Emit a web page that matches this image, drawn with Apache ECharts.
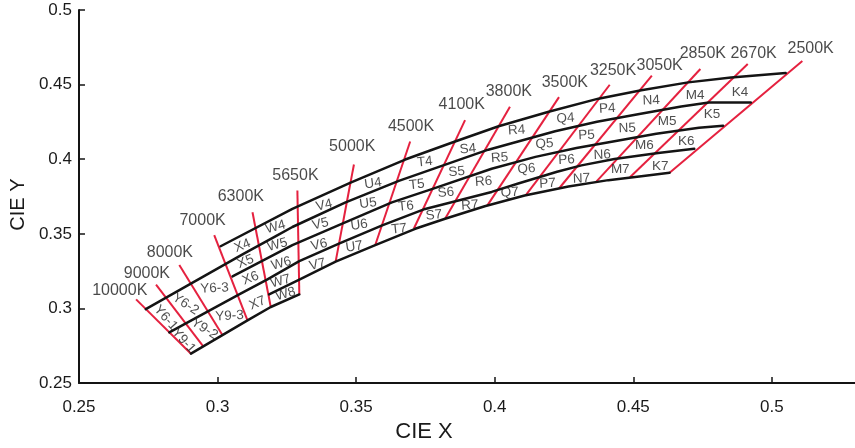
<!DOCTYPE html>
<html>
<head>
<meta charset="utf-8">
<script src="https://cdn.jsdelivr.net/npm/echarts@6/dist/echarts.min.js"></script>
<style>
  html, body { margin: 0; padding: 0; background: #ffffff; }
  #chart { width: 855px; height: 448px; }
</style>
</head>
<body>
<div id="chart"></div>
<script>
// Chromaticity bin boundaries (CIE 1931 x, y)
const boundaryTop = [
  [0.3011, 0.3417], [0.3270, 0.3667], [0.3480, 0.3843], [0.3677, 0.3998],
  [0.3857, 0.4119], [0.4014, 0.4221], [0.4198, 0.4320], [0.4374, 0.4406],
  [0.4529, 0.4462], [0.4698, 0.4515], [0.4853, 0.4548], [0.5050, 0.4578]
];
const boundary45 = [
  [0.2741, 0.2996], [0.3095, 0.3367], [0.3212, 0.3486], [0.3270, 0.3546],
  [0.3462, 0.3711], [0.3654, 0.3855], [0.3809, 0.3956], [0.3977, 0.4064],
  [0.4218, 0.4188], [0.4369, 0.4251], [0.4522, 0.4303], [0.4673, 0.4353],
  [0.4773, 0.4380], [0.4924, 0.4380]
];
const boundary56 = [
  [0.3054, 0.3215], [0.3270, 0.3425], [0.3450, 0.3568], [0.3629, 0.3711],
  [0.3773, 0.3800], [0.3989, 0.3936], [0.4147, 0.4016], [0.4295, 0.4075],
  [0.4432, 0.4121], [0.4583, 0.4171], [0.4737, 0.4211], [0.4824, 0.4225]
];
const boundary67 = [
  [0.2826, 0.2840], [0.3078, 0.3094], [0.3180, 0.3195], [0.3295, 0.3317],
  [0.3438, 0.3435], [0.3594, 0.3557], [0.3749, 0.3667], [0.3989, 0.3781],
  [0.4085, 0.3837], [0.4225, 0.3916], [0.4313, 0.3959], [0.4432, 0.4002],
  [0.4590, 0.4042], [0.4720, 0.4070]
];
const boundary7 = [
  [0.3186, 0.3094], [0.3295, 0.3193], [0.3426, 0.3314], [0.3569, 0.3425],
  [0.3713, 0.3534], [0.3821, 0.3601], [0.3964, 0.3685], [0.4108, 0.3757],
  [0.4266, 0.3817], [0.4410, 0.3860], [0.4529, 0.3886], [0.4631, 0.3910]
];
const boundaryBottom = [
  [0.2904, 0.2697], [0.3108, 0.2920], [0.3192, 0.3010], [0.3295, 0.3094]
];

// Isotherms: correlated colour temperature, upper end, lower end
const cctNames = ['10000K', '9000K', '8000K', '7000K', '6300K', '5650K', '5000K', '4500K',
  '4100K', '3800K', '3500K', '3250K', '3050K', '2850K', '2670K', '2500K'];
const cctUpper = [
  [0.2706, 0.3061], [0.2778, 0.3160], [0.2862, 0.3292], [0.2988, 0.3491],
  [0.3126, 0.3645], [0.3288, 0.3791], [0.3492, 0.3965], [0.3695, 0.4119],
  [0.3893, 0.4262], [0.4055, 0.4351], [0.4232, 0.4416], [0.4415, 0.4499],
  [0.4567, 0.4560], [0.4742, 0.4605], [0.4913, 0.4638], [0.5110, 0.4659]
];
const cctLower = [
  [0.2904, 0.2697], [0.2949, 0.2745], [0.3018, 0.2820], [0.3108, 0.2920],
  [0.3192, 0.3010], [0.3295, 0.3094], [0.3426, 0.3314], [0.3569, 0.3425],
  [0.3708, 0.3534], [0.3821, 0.3601], [0.3973, 0.3689], [0.4113, 0.3761],
  [0.4232, 0.3804], [0.4365, 0.3847], [0.4488, 0.3879], [0.4631, 0.3910]
];
const cctLabelAt = [
  [0.2647, 0.3122], [0.2745, 0.3237], [0.2828, 0.3374], [0.2946, 0.3590],
  [0.3084, 0.3749], [0.3281, 0.3888], [0.3486, 0.4082], [0.3698, 0.4219],
  [0.3881, 0.4366], [0.4051, 0.4454], [0.4253, 0.4512], [0.4427, 0.4593],
  [0.4595, 0.4626], [0.4751, 0.4710], [0.4934, 0.4710], [0.5140, 0.4742]
];

// Bin codes and the chromaticity at which each code is written
const binNames = [
  'K4', 'K5', 'K6', 'K7', 'M4', 'M5', 'M6', 'M7', 'N4', 'N5', 'N6', 'N7',
  'P4', 'P5', 'P6', 'P7', 'Q4', 'Q5', 'Q6', 'Q7', 'R4', 'R5', 'R6', 'R7',
  'S4', 'S5', 'S6', 'S7', 'T4', 'T5', 'T6', 'T7', 'U4', 'U5', 'U6', 'U7',
  'V4', 'V5', 'V6', 'V7', 'W4', 'W5', 'W6', 'W7', 'W8', 'X4', 'X5', 'X6', 'X7',
  'Y6-3', 'Y9-3', 'Y6-2', 'Y9-2', 'Y6-1', 'Y9-1'
];
const binAt = [
  [0.4885, 0.4452], [0.4784, 0.4300], [0.4691, 0.4121], [0.4597, 0.3956],
  [0.4723, 0.4426], [0.4622, 0.4254], [0.4540, 0.4095], [0.4453, 0.3930],
  [0.4565, 0.4393], [0.4478, 0.4207], [0.4388, 0.4029], [0.4313, 0.3870],
  [0.4406, 0.4340], [0.4331, 0.4161], [0.4259, 0.3996], [0.4191, 0.3837],
  [0.4255, 0.4274], [0.4180, 0.4102], [0.4115, 0.3936], [0.4054, 0.3777],
  [0.4079, 0.4194], [0.4018, 0.4009], [0.3960, 0.3850], [0.3910, 0.3691],
  [0.3903, 0.4068], [0.3863, 0.3916], [0.3824, 0.3777], [0.3781, 0.3625],
  [0.3748, 0.3982], [0.3719, 0.3830], [0.3680, 0.3685], [0.3655, 0.3532],
  [0.3561, 0.3837], [0.3543, 0.3704], [0.3511, 0.3559], [0.3493, 0.3413],
  [0.3385, 0.3691], [0.3371, 0.3566], [0.3367, 0.3427], [0.3360, 0.3294],
  [0.3209, 0.3546], [0.3216, 0.3427], [0.3230, 0.3301], [0.3227, 0.3182], [0.3245, 0.3096],
  [0.3090, 0.3420], [0.3101, 0.3314], [0.3119, 0.3202], [0.3144, 0.3036],
  [0.2989, 0.3135], [0.3043, 0.2950], [0.2885, 0.3029], [0.2953, 0.2864],
  [0.2813, 0.2937], [0.2878, 0.2785]
];

// Axis ticks
const xTicks = [0.25, 0.3, 0.35, 0.4, 0.45, 0.5];
const yTicks = [0.25, 0.3, 0.35, 0.4, 0.45, 0.5];

const BLACK = '#141414';
const RED = '#e5213f';

// text tilt for each bin column, following the slope of the boundaries
function binTilt(name) {
  if (name === 'Y6-1' || name === 'Y9-1') return -48;
  if (name === 'Y6-2' || name === 'Y9-2') return -33;
  if (name === 'Y6-3' || name === 'Y9-3') return 3;
  const tilt = { K: 0, M: 0, N: 2, P: 3, Q: 4, R: 4, S: 5, T: 6, U: 8, V: 13, W: 15, X: 22 };
  return tilt[name[0]] || 0;
}

const chart = echarts.init(document.getElementById('chart'), null, { renderer: 'canvas' });

const boundaries = [boundaryTop, boundary45, boundary56, boundary67, boundary7, boundaryBottom];

const series = [];

cctNames.forEach((name, i) => {
  series.push({
    type: 'line',
    name: name,
    data: [cctUpper[i], cctLower[i]],
    showSymbol: false,
    silent: true,
    z: 2,
    lineStyle: { color: RED, width: 2 }
  });
});

boundaries.forEach((pts, i) => {
  series.push({
    type: 'line',
    name: 'boundary' + i,
    data: pts,
    smooth: false,
    showSymbol: false,
    silent: true,
    z: 3,
    lineStyle: { color: BLACK, width: 2.5, join: 'round', cap: 'round' }
  });
});

series.push({
  type: 'scatter',
  name: 'cct',
  symbolSize: 0,
  silent: true,
  z: 4,
  data: cctNames.map((n, i) => ({ name: n, value: cctLabelAt[i] })),
  label: {
    show: true,
    position: 'inside',
    formatter: '{b}',
    color: '#1a1a1a',
    fontSize: 16,
    fontFamily: 'Liberation Sans, Arial, sans-serif'
  }
});

series.push({
  type: 'scatter',
  name: 'bins',
  symbolSize: 0,
  silent: true,
  z: 4,
  data: binNames.map((n, i) => ({
    name: n,
    value: binAt[i],
    label: { rotate: binTilt(n) }
  })),
  label: {
    show: true,
    position: 'inside',
    formatter: '{b}',
    color: '#222222',
    fontSize: 13.5,
    fontFamily: 'Liberation Sans, Arial, sans-serif'
  }
});

chart.setOption({
  animation: false,
  backgroundColor: '#ffffff',
  grid: { left: 76, right: 0, top: 10, bottom: 60, containLabel: false },
  xAxis: {
    type: 'value',
    min: 0.25,
    max: 0.53,
    interval: 0.05,
    name: 'CIE X',
    nameLocation: 'middle',
    nameGap: 34,
    nameTextStyle: {
      fontSize: 22, color: '#1a1a1a', padding: [0, 86, 0, 0],
      fontFamily: 'Liberation Sans Narrow, Liberation Sans, Arial, sans-serif'
    },
    axisLine: { show: true, onZero: false, lineStyle: { color: BLACK, width: 2 } },
    axisTick: { show: true, inside: true, length: 6, lineStyle: { color: BLACK, width: 1.5 } },
    axisLabel: {
      show: true,
      margin: 16,
      fontSize: 17,
      color: '#1a1a1a',
      fontFamily: 'Liberation Sans Narrow, Liberation Sans, Arial, sans-serif',
      showMaxLabel: false,
      formatter: v => (xTicks.some(t => Math.abs(t - v) < 1e-9) ? String(+v.toFixed(2)) : '')
    },
    splitLine: { show: false }
  },
  yAxis: {
    type: 'value',
    min: 0.25,
    max: 0.5,
    interval: 0.05,
    name: 'CIE Y',
    nameLocation: 'middle',
    nameGap: 44,
    nameRotate: 90,
    nameTextStyle: {
      fontSize: 20, color: '#1a1a1a', padding: [0, 16, 0, 0],
      fontFamily: 'Liberation Sans, Arial, sans-serif'
    },
    axisLine: { show: true, onZero: false, lineStyle: { color: BLACK, width: 2 } },
    axisTick: { show: true, inside: true, length: 6, lineStyle: { color: BLACK, width: 1.5 } },
    axisLabel: {
      show: true,
      margin: 7,
      fontSize: 17,
      color: '#1a1a1a',
      fontFamily: 'Liberation Sans, Arial, sans-serif',
      formatter: v => (yTicks.some(t => Math.abs(t - v) < 1e-9) ? String(+v.toFixed(2)) : '')
    },
    splitLine: { show: false }
  },
  series: series
});
</script>
</body>
</html>
